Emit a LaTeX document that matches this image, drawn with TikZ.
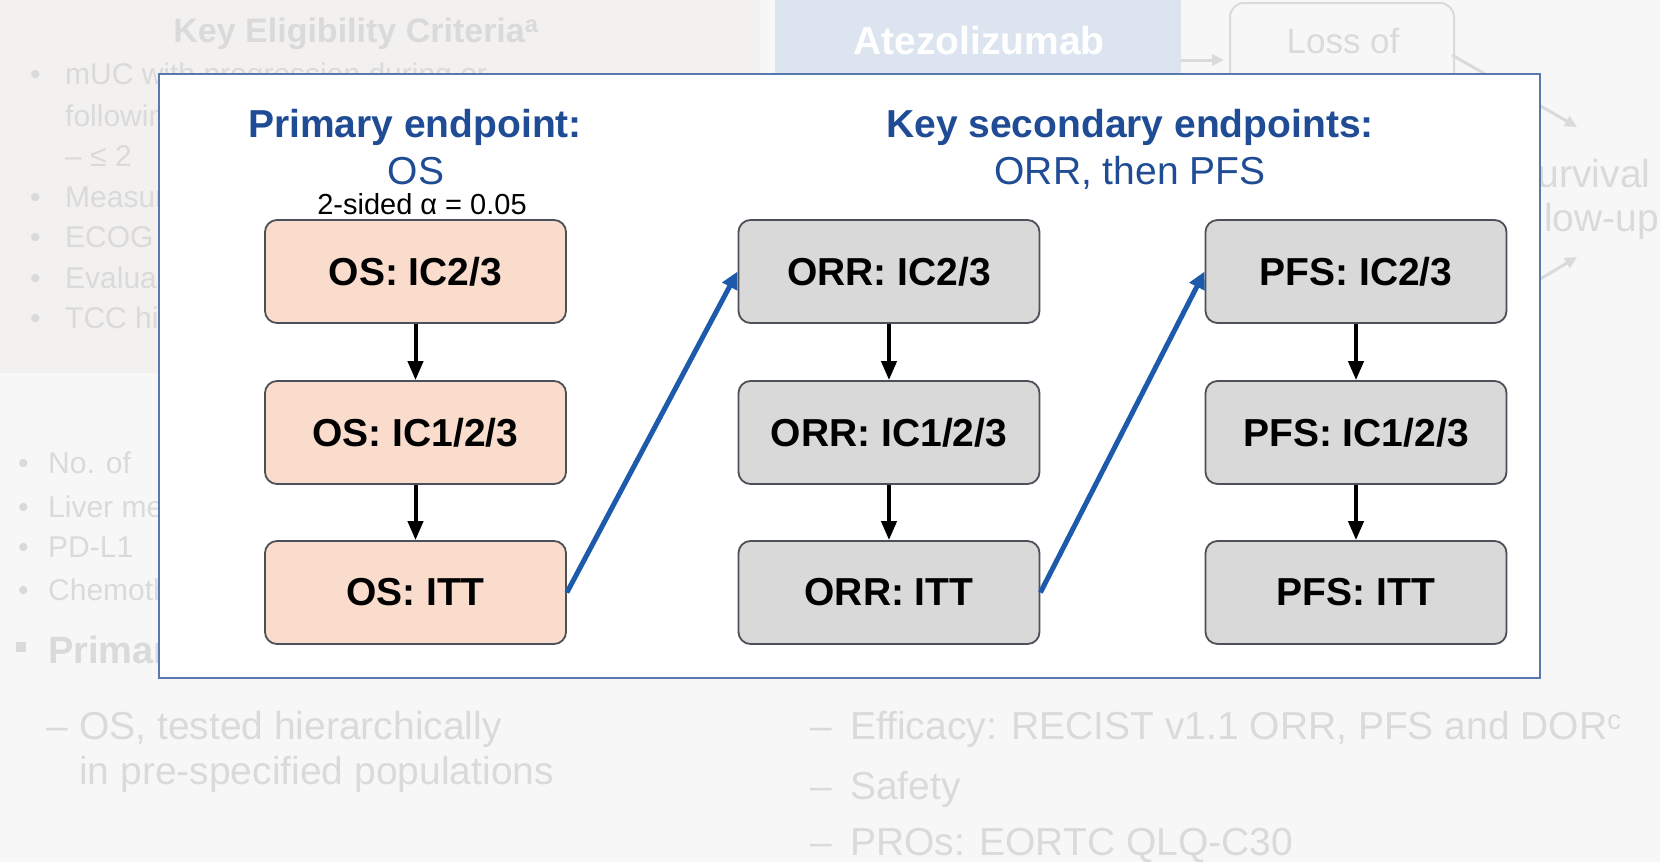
\documentclass[tikz,border=0pt]{standalone}
\usepackage{fontspec}
\setmainfont{Liberation Sans}
\usetikzlibrary{arrows.meta}

\definecolor{slide}{HTML}{F7F7F7}
\definecolor{panel}{HTML}{F3F1EF}
\definecolor{ghost}{HTML}{DADADA}
\definecolor{ghostblue}{HTML}{DCE5EF}
\definecolor{frameblue}{HTML}{5A78B0}
\definecolor{titleblue}{HTML}{1F4C94}
\definecolor{jumpblue}{HTML}{1E5AAB}
\definecolor{salmon}{HTML}{FADCCD}
\definecolor{boxgray}{HTML}{D9D9D9}
\definecolor{boxline}{HTML}{4C5058}

\newcommand\setpx[1]{\fontsize{#1}{#1}\selectfont}

\tikzset{
  epbox/.style={draw=boxline, line width=1.8pt, rounded corners=12pt,
    minimum width=301pt, minimum height=103pt, inner sep=0pt,
    font=\setpx{39}\bfseries, text=black},
  osbox/.style={epbox, fill=salmon},
  grbox/.style={epbox, fill=boxgray},
  flow/.style={draw=black, line width=4pt, -{Triangle[length=19pt,width=15pt]}},
  jump/.style={draw=jumpblue, line width=5pt, -{Triangle[length=17pt,width=16pt]}},
  headline/.style={text=titleblue, font=\setpx{39}\bfseries, inner sep=0pt, anchor=base},
  subline/.style={text=titleblue, font=\setpx{39}, inner sep=0pt, anchor=base},
  gtext/.style={text=ghost, font=\setpx{30}, inner sep=0pt, anchor=base west},
  gbig/.style={text=ghost, font=\setpx{39}, inner sep=0pt, anchor=base west},
  garrow/.style={draw=ghost, line width=3pt, -{Triangle[length=12pt,width=11pt]}},
}

\begin{document}
\begin{tikzpicture}[x=1pt, y=-1pt]
\useasboundingbox (0,0) rectangle (1660,862);

% faded slide underneath
\fill[slide] (0,0) rectangle (1660,862);
\fill[panel] (0,0) rectangle (760,373);

\fill[ghostblue] (775,0) rectangle (1181,80);
\node[text=white, font=\setpx{39}\bfseries, inner sep=0pt, anchor=base] (atz) at (979,54) {Atezolizumab};
\draw[ghost, line width=2pt, rounded corners=14pt] (1230,3) rectangle (1454,110);
\node[text=ghost, font=\setpx{35}, inner sep=0pt, anchor=base] (loss) at (1343,53) {Loss of};
\draw[garrow] (1181,60) -- (1224,60);
\draw[garrow] (1452,55) -- (1577,127);
\draw[garrow] (1480,315) -- (1577,257);
\node[gbig, anchor=base] (surv1) at (1581,187) {Survival};
\node[gbig, anchor=base] (surv2) at (1581,231) {follow-up};

\node[text=ghost, font=\setpx{34}\bfseries, inner sep=0pt, anchor=base] (gkey) at (356,42) {Key Eligibility Criteria\textsuperscript{a}};
\node[gtext] (gb1) at (30,84) {•};   \node[gtext] (gl1) at (65,84) {mUC with progression during or};
\node[gtext] (gl2) at (65,126) {following};
\node[gtext] (gl3) at (65,166) {– ≤ 2};
\node[gtext] (gb4) at (30,207) {•};  \node[gtext] (gl4) at (65,207) {Measurable};
\node[gtext] (gb5) at (30,247) {•};  \node[gtext] (gl5) at (65,247) {ECOG};
\node[gtext] (gb6) at (30,288) {•};  \node[gtext] (gl6) at (65,288) {Evaluable};
\node[gtext] (gb7) at (30,328) {•};  \node[gtext] (gl7) at (65,328) {TCC histology};

\node[gtext] (gb8) at (18,473) {•};  \node[gtext] (gl8) at (48,473) {No. of};
\node[gtext] (gb9) at (18,517) {•};  \node[gtext] (gl9) at (48,517) {Liver metastases};
\node[gtext] (gb10) at (18,557) {•}; \node[gtext] (gl10) at (48,557) {PD-L1};
\node[gtext] (gb11) at (18,600) {•}; \node[gtext] (gl11) at (48,600) {Chemotherapy};
\fill[ghost] (16,642) rectangle (26,652);
\node[gtext, font=\setpx{38}\bfseries] (gl12) at (48,663) {Primary endpoint};
\node[gbig] (gd13) at (46,739) {–};  \node[gbig] (gl13) at (79,739) {OS, tested hierarchically};
\node[gbig] (gl14) at (79,784) {in pre-specified populations};

\node[gbig] (gd15) at (810,739) {–}; \node[gbig] (gl15) at (850,739) {Efficacy: RECIST v1.1 ORR, PFS and DOR\textsuperscript{c}};
\node[gbig] (gd16) at (810,799) {–}; \node[gbig] (gl16) at (850,799) {Safety};
\node[gbig] (gd17) at (810,855) {–}; \node[gbig] (gl17) at (850,855) {PROs: EORTC QLQ-C30};

% endpoint hierarchy panel
\draw[frameblue, fill=white, line width=2.5pt] (159,74) rectangle (1540,678);

\node[headline] (ptitle) at (415,137) {Primary endpoint:};
\node[subline] (psub) at (416,184) {OS};
\node[text=black, font=\setpx{29}, inner sep=0pt, anchor=base] (alpha) at (422,214) {2-sided α = 0.05};

\node[headline] (stitle) at (1130,137) {Key secondary endpoints:};
\node[subline] (ssub) at (1130,184) {ORR, then PFS};

\node[osbox] (os1) at (415.5,271.5) {OS: IC2/3};
\node[osbox] (os2) at (415.5,432.5) {OS: IC1/2/3};
\node[osbox] (os3) at (415.5,592.5) {OS: ITT};

\node[grbox] (orr1) at (889,271.5) {ORR: IC2/3};
\node[grbox] (orr2) at (889,432.5) {ORR: IC1/2/3};
\node[grbox] (orr3) at (889,592.5) {ORR: ITT};

\node[grbox] (pfs1) at (1356,271.5) {PFS: IC2/3};
\node[grbox] (pfs2) at (1356,432.5) {PFS: IC1/2/3};
\node[grbox] (pfs3) at (1356,592.5) {PFS: ITT};

\draw[flow] (os1) -- (os2);
\draw[flow] (os2) -- (os3);
\draw[flow] (orr1) -- (orr2);
\draw[flow] (orr2) -- (orr3);
\draw[flow] (pfs1) -- (pfs2);
\draw[flow] (pfs2) -- (pfs3);

\draw[jump] (os3.east) -- (orr1.west);
\draw[jump] (orr3.east) -- (pfs1.west);
\end{tikzpicture}
\end{document}
